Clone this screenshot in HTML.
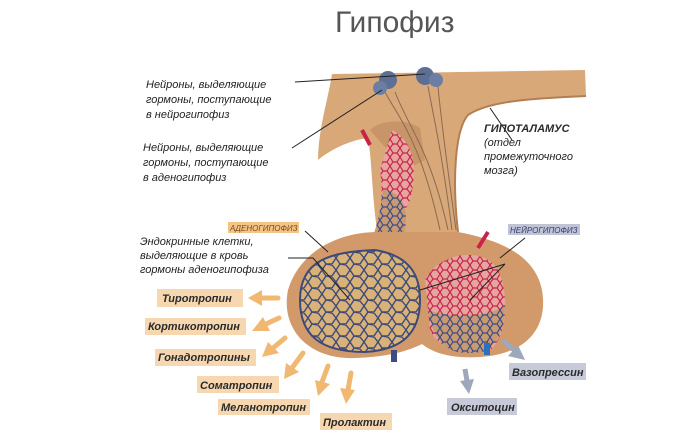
<!DOCTYPE html>
<html><head><meta charset="utf-8"><style>
body{margin:0;background:#fff;width:700px;height:441px;overflow:hidden}
svg{display:block}
text{font-family:"Liberation Sans","DejaVu Sans",sans-serif}
.l{font-size:11px;font-style:italic;fill:#222}
.h{font-size:11px;font-style:italic;font-weight:bold;fill:#2a2a2a}
</style></head><body>
<svg width="700" height="441" viewBox="0 0 700 441" xmlns="http://www.w3.org/2000/svg">
<defs>
<pattern id="cells" width="14" height="12" patternUnits="userSpaceOnUse">
<rect width="14" height="12" fill="#d9b27a"/>
<path d="M0 6 L4 0 L10 1 L14 6 L10 12 L4 12 Z" fill="none" stroke="#3d4a78" stroke-width="1.4"/>
</pattern>
<pattern id="red" width="10" height="9" patternUnits="userSpaceOnUse">
<rect width="10" height="9" fill="#e5a6a0"/>
<path d="M0 4 L3 0 L7 0 L10 4 L7 9 L3 9 Z" fill="none" stroke="#c8244a" stroke-width="1.2"/>
</pattern>
<pattern id="blue" width="10" height="9" patternUnits="userSpaceOnUse">
<rect width="10" height="9" fill="#c89a72"/>
<path d="M0 4 L3 0 L7 0 L10 4 L7 9 L3 9 Z" fill="none" stroke="#3b4c86" stroke-width="1.2"/>
</pattern>
</defs>
<text x="335" y="32" font-size="30" fill="#555">Гипофиз</text>

<!-- hypothalamus -->
<path d="M332 74 L585 70 L586 96 C540 98 490 100 468 115 C455 130 452 180 458 232 L378 236 C372 200 372 160 368 138 C350 140 330 150 318 160 C318 130 328 100 332 74 Z" fill="#d8a878"/>
<path d="M586 96 C540 98 490 100 468 115 C455 130 452 180 458 232" fill="none" stroke="#b27f55" stroke-width="2"/>
<path d="M370 130 C380 120 405 118 420 128 L425 160 L405 170 Z" fill="#c79568"/>
<circle cx="388" cy="80" r="9" fill="#5d6f95"/><circle cx="380" cy="88" r="7" fill="#6b7ea5"/>
<circle cx="425" cy="76" r="9" fill="#5d6f95"/><circle cx="436" cy="80" r="7" fill="#6b7ea5"/>
<path d="M385 92 C400 120 420 140 440 230 M395 92 C410 130 430 150 448 230 M428 86 C432 110 440 140 452 230 M438 86 C440 110 445 150 456 230" stroke="#8a6a55" stroke-width="1" fill="none"/>
<path d="M392 130 C410 140 420 160 410 200 C400 220 395 240 392 255 L370 255 C378 230 385 200 380 170 Z" fill="url(#red)"/>
<path d="M383 190 C395 190 410 200 405 230 L392 260 L360 260 C375 240 380 215 383 190 Z" fill="url(#blue)"/>
<path d="M362 130 L370 145" stroke="#c8244a" stroke-width="4"/>
<!-- gland -->
<path d="M378 232 C340 232 300 250 288 290 C280 330 310 360 355 358 C390 357 410 350 422 344 C435 355 460 360 490 356 C530 350 548 325 542 290 C535 255 500 240 458 232 Z" fill="#d29a6a"/>
<path d="M300 300 C300 260 330 252 375 250 C405 255 420 270 420 300 C420 335 400 350 365 352 C320 352 300 335 300 300 Z" fill="url(#cells)" stroke="#3d4a78" stroke-width="2"/>
<path d="M425 280 C440 250 490 245 500 275 C510 300 505 340 490 350 C470 356 440 352 430 330 Z" fill="url(#red)"/>
<path d="M428 310 C450 318 490 318 505 305 C505 330 495 350 480 352 C455 356 435 350 428 310 Z" fill="url(#blue)"/>
<rect x="391" y="350" width="6" height="12" fill="#3b4c86"/>
<rect x="484" y="343" width="6" height="12" fill="#2d6fc0"/>
<path d="M478 248 L488 232" stroke="#c8244a" stroke-width="4"/>

<g stroke="#222" stroke-width="1" fill="none">
<path d="M295 82 L425 74"/><path d="M292 148 L382 90"/>
<path d="M512 140 L490 108"/>
<path d="M305 231 L328 252"/>
<path d="M288 258 L313 258 L350 300"/>
<path d="M525 238 L500 258"/>
<path d="M505 264 L420 290 M505 264 L470 300"/>
</g>

<text class="l" x="146" y="88">Нейроны, выделяющие</text>
<text class="l" x="146" y="103">гормоны, поступающие</text>
<text class="l" x="146" y="118">в нейрогипофиз</text>
<text class="l" x="143" y="151">Нейроны, выделяющие</text>
<text class="l" x="143" y="166">гормоны, поступающие</text>
<text class="l" x="143" y="181">в аденогипофиз</text>
<text class="l" x="140" y="245">Эндокринные клетки,</text>
<text class="l" x="140" y="259">выделяющие в кровь</text>
<text class="l" x="140" y="273">гормоны аденогипофиза</text>
<text class="h" x="484" y="132">ГИПОТАЛАМУС</text>
<text class="l" x="484" y="146">(отдел</text>
<text class="l" x="484" y="160">промежуточного</text>
<text class="l" x="484" y="174">мозга)</text>
<rect x="228" y="222" width="71" height="11" fill="#f3c584"/>
<text x="230" y="231" font-size="8" font-style="italic" fill="#7a4a20">АДЕНОГИПОФИЗ</text>
<rect x="508" y="224" width="72" height="11" fill="#bfc3d3"/>
<text x="510" y="233" font-size="8" font-style="italic" fill="#34407a">НЕЙРОГИПОФИЗ</text>

<g fill="#f6d7b0">
<rect x="157" y="289" width="86" height="18"/>
<rect x="145" y="318" width="101" height="17"/>
<rect x="155" y="349" width="101" height="17"/>
<rect x="197" y="376" width="82" height="17"/>
<rect x="218" y="399" width="92" height="16"/>
<rect x="320" y="413" width="72" height="17"/>
</g>
<text class="h" x="162" y="302">Тиротропин</text>
<text class="h" x="148" y="330">Кортикотропин</text>
<text class="h" x="158" y="361">Гонадотропины</text>
<text class="h" x="200" y="389">Соматропин</text>
<text class="h" x="221" y="411">Меланотропин</text>
<text class="h" x="323" y="426">Пролактин</text>
<rect x="509" y="363" width="77" height="17" fill="#c7cad8"/>
<rect x="447" y="398" width="70" height="17" fill="#c7cad8"/>
<text class="h" x="512" y="376">Вазопрессин</text>
<text class="h" x="451" y="411">Окситоцин</text>

<g stroke="#f0b870" stroke-width="5" fill="#f0b870" stroke-linecap="round">
<path d="M278 298 L262 298"/><polygon points="248,298 262,290 262,306" stroke="none"/>
<path d="M279 318 L266 324"/><polygon points="252,331 263,317 270,331" stroke="none"/>
<path d="M285 338 L273 348"/><polygon points="262,357 268,342 279,353" stroke="none"/>
<path d="M303 353 L292 368"/><polygon points="284,379 286,363 299,372" stroke="none"/>
<path d="M328 366 L322 382"/><polygon points="318,396 315,380 330,384" stroke="none"/>
<path d="M351 373 L348 390"/><polygon points="346,404 340,388 355,390" stroke="none"/>
</g>
<g stroke="#9ea8bb" stroke-width="5" fill="#9ea8bb">
<path d="M502 340 L514 350"/><polygon points="525,360 508,356 518,345" stroke="none"/>
<path d="M465 369 L467 381"/><polygon points="469,394 460,381 474,379" stroke="none"/>
</g>
</svg>
</body></html>
